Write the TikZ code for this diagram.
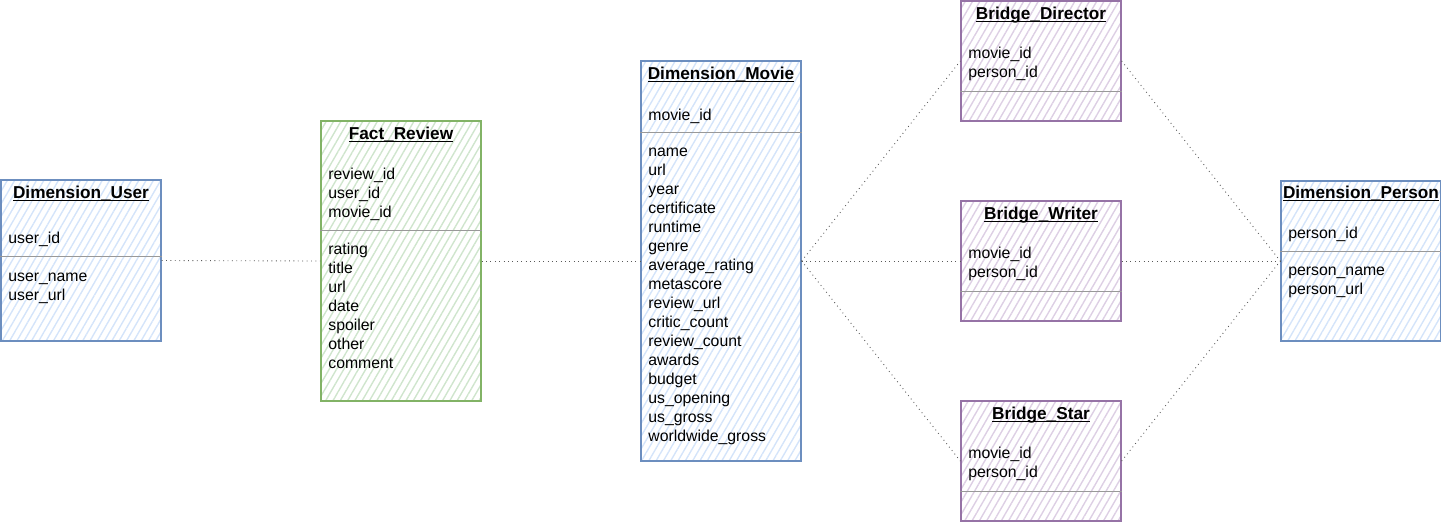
\documentclass[tikz,border=0pt]{standalone}
\usepackage{fontspec}
\setmainfont{Liberation Sans}
\usetikzlibrary{patterns.meta}

\definecolor{bluefill}{HTML}{D4E4FA}
\definecolor{blueline}{HTML}{6C8EBF}
\definecolor{greenfill}{HTML}{CFE5CD}
\definecolor{greenline}{HTML}{82B366}
\definecolor{purplefill}{HTML}{DDCFE4}
\definecolor{purpleline}{HTML}{9673A6}

\newcommand{\tabname}[1]{\underline{\smash{#1}}}

\tikzset{
    table/.style={draw, line width=0.75pt, minimum width=3.2cm, inner sep=0pt},
    bluetab/.style={table, draw=blueline, pattern={Lines[angle=60,distance=3.6pt,line width=0.8pt]}, pattern color=bluefill},
    greentab/.style={table, draw=greenline, pattern={Lines[angle=60,distance=3.6pt,line width=0.8pt]}, pattern color=greenfill},
    purpletab/.style={table, draw=purpleline, pattern={Lines[angle=60,distance=3.6pt,line width=0.8pt]}, pattern color=purplefill},
    sep/.style={draw=black!40, line width=0.5pt},
    link/.style={draw=black!65, dotted, line width=0.5pt},
    ttl/.style={anchor=base, inner sep=0pt, font=\fontsize{9.8}{12}\selectfont\bfseries},
    attr/.style={anchor=base west, inner sep=0pt, font=\fontsize{9}{10.8}\selectfont},
}

\begin{document}
\begin{tikzpicture}[x=0.02cm, y=-0.02cm]
    \useasboundingbox (0,0) rectangle (1441,522);

    % tables
    \node[bluetab, minimum height=3.22cm] (user) at (81,260.5) {};
    \node[greentab, minimum height=5.6cm] (fact) at (401,261) {};
    \node[bluetab, minimum height=8cm] (movie) at (721,261) {};
    \node[purpletab, minimum height=2.4cm] (director) at (1041,61) {};
    \node[purpletab, minimum height=2.4cm] (writer) at (1041,261) {};
    \node[purpletab, minimum height=2.4cm] (star) at (1041,461) {};
    \node[bluetab, minimum height=3.2cm] (person) at (1361,261) {};

    % key / attribute separators
    \draw[sep] (user.west |- 0,256) -- (user.east |- 0,256);
    \draw[sep] (fact.west |- 0,230) -- (fact.east |- 0,230);
    \draw[sep] (movie.west |- 0,132) -- (movie.east |- 0,132);
    \draw[sep] (director.west |- 0,91) -- (director.east |- 0,91);
    \draw[sep] (writer.west |- 0,291) -- (writer.east |- 0,291);
    \draw[sep] (star.west |- 0,491) -- (star.east |- 0,491);
    \draw[sep] (person.west |- 0,251) -- (person.east |- 0,251);

    % titles
    \node[ttl] (userttl) at (81,198) {\tabname{Dimension\_User}};
    \node[ttl] (factttl) at (401,139) {\tabname{Fact\_Review}};
    \node[ttl] (moviettl) at (721,79) {\tabname{Dimension\_Movie}};
    \node[ttl] (directorttl) at (1041,19) {\tabname{Bridge\_Director}};
    \node[ttl] (writerttl) at (1041,219) {\tabname{Bridge\_Writer}};
    \node[ttl] (starttl) at (1041,419) {\tabname{Bridge\_Star}};
    \node[ttl] (personttl) at (1361,198) {\tabname{Dimension\_Person}};

    % keys
    \node[attr] (userkey) at (8,243) {user\_id};
    \foreach \k [count=\i] in {review\_id,user\_id,movie\_id}
        \node[attr] (factkey\i) at (328,{179+(\i-1)*19}) {\k};
    \node[attr] (moviekey) at (648,120) {movie\_id};
    \foreach \t/\y in {director/58,writer/258,star/458} {
        \node[attr] (\t key1) at (968,\y) {movie\_id};
        \node[attr] (\t key2) at (968,\y+19) {person\_id};
    }
    \node[attr] (personkey) at (1288,238) {person\_id};

    % attributes
    \foreach \a [count=\i] in {user\_name,user\_url}
        \node[attr] (userattr\i) at (8,{281+(\i-1)*19}) {\a};
    \foreach \a [count=\i] in {rating,title,url,date,spoiler,other,comment}
        \node[attr] (factattr\i) at (328,{254+(\i-1)*19}) {\a};
    \foreach \a [count=\i] in {name,url,year,certificate,runtime,genre,average\_rating,metascore,review\_url,critic\_count,review\_count,awards,budget,us\_opening,us\_gross,worldwide\_gross}
        \node[attr] (movieattr\i) at (648,{156+(\i-1)*19}) {\a};
    \foreach \a [count=\i] in {person\_name,person\_url}
        \node[attr] (personattr\i) at (1288,{275+(\i-1)*19}) {\a};

    % links
    \draw[link] (user.east) -- (fact.west);
    \draw[link] (fact.east) -- (movie.west);
    \draw[link] (movie.east) -- (director.west);
    \draw[link] (movie.east) -- (writer.west);
    \draw[link] (movie.east) -- (star.west);
    \draw[link] (director.east) -- (person.west);
    \draw[link] (writer.east) -- (person.west);
    \draw[link] (star.east) -- (person.west);
\end{tikzpicture}
\end{document}
